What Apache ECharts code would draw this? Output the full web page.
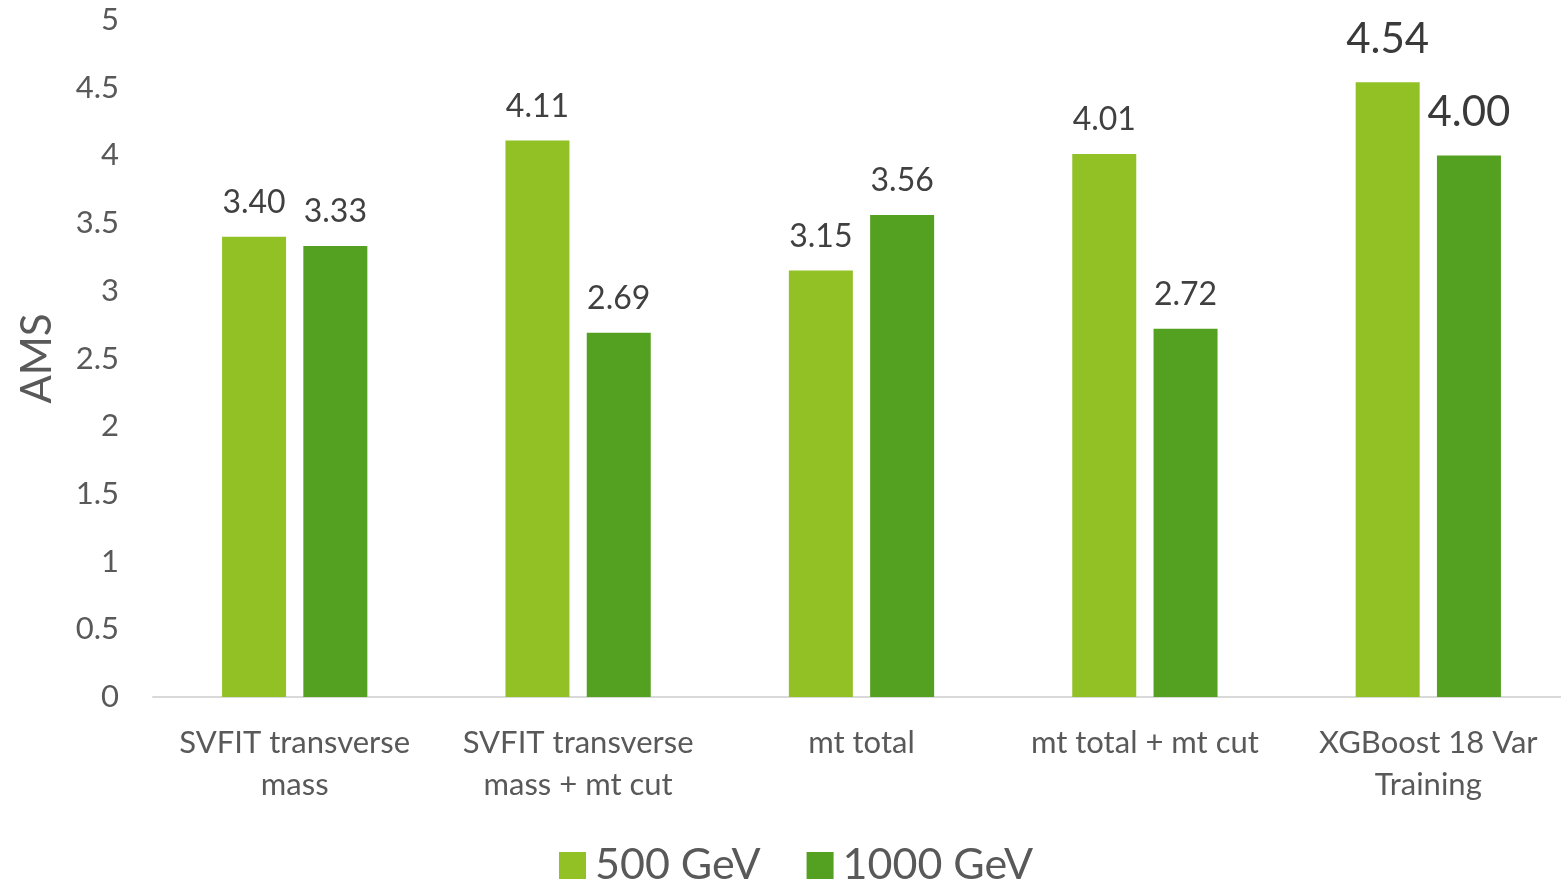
<!DOCTYPE html>
<html><head><meta charset="utf-8">
<script src="https://cdn.jsdelivr.net/npm/echarts@6/dist/echarts.min.js"></script>
<style>html,body{margin:0;padding:0;background:#fff}#c{width:1561px;height:885px}</style>
</head><body><div id="c"></div>
<script>
const categories = ['SVFIT transverse\nmass', 'SVFIT transverse\nmass + mt cut', 'mt total', 'mt total + mt cut', 'XGBoost 18 Var\nTraining'];
const seriesNames = ['500 GeV', '1000 GeV'];
const values500 = [3.40, 4.11, 3.15, 4.01, 4.54];
const values1000 = [3.33, 2.69, 3.56, 2.72, 4.00];
const highlightIndex = 4;

const FONT = 'Lato, "Noto Sans", sans-serif';
const colors = ['#92C126', '#54A021'];

function mkData(arr) {
  return arr.map((v, i) => i === highlightIndex
    ? { value: v, label: { fontSize: 42, color: '#3a3a3a', distance: 22 } }
    : v);
}

const chart = echarts.init(document.getElementById('c'));
chart.setOption({
  animation: false,
  textStyle: { fontFamily: FONT },
  grid: { left: 153, width: 1417, top: 20, bottom: 188, containLabel: false, outerBoundsMode: 'none' },
  legend: {
    data: seriesNames, bottom: -7, left: 554,
    itemWidth: 27, itemHeight: 27, itemGap: 46, icon: 'rect',
    textStyle: { fontSize: 43, color: '#595959', fontFamily: FONT, padding: [0, 0, 0, 4] }
  },
  xAxis: {
    type: 'category', data: categories,
    axisLine: { lineStyle: { color: '#d9d9d9', width: 2 } },
    axisTick: { show: false },
    axisLabel: { fontSize: 31, color: '#595959', lineHeight: 42, margin: 25, interval: 0, fontFamily: FONT }
  },
  yAxis: {
    type: 'value', min: 0, max: 5, interval: 0.5,
    name: 'AMS', nameLocation: 'middle', nameGap: 95, nameRotate: 90,
    nameTextStyle: { fontSize: 42, color: '#595959', fontFamily: FONT },
    axisLine: { show: false }, axisTick: { show: false }, splitLine: { show: false },
    axisLabel: { fontSize: 31, color: '#595959', margin: 34, fontFamily: FONT }
  },
  series: [
    {
      name: seriesNames[0], type: 'bar', data: mkData(values500), barWidth: 64, barGap: '27%',
      itemStyle: { color: colors[0] },
      label: { show: true, position: 'top', distance: 18, fontSize: 32, color: '#404040', fontFamily: FONT,
        formatter: p => p.value.toFixed(2) }
    },
    {
      name: seriesNames[1], type: 'bar', data: mkData(values1000), barWidth: 64,
      itemStyle: { color: colors[1] },
      label: { show: true, position: 'top', distance: 18, fontSize: 32, color: '#404040', fontFamily: FONT,
        formatter: p => p.value.toFixed(2) }
    }
  ]
});
</script></body></html>
